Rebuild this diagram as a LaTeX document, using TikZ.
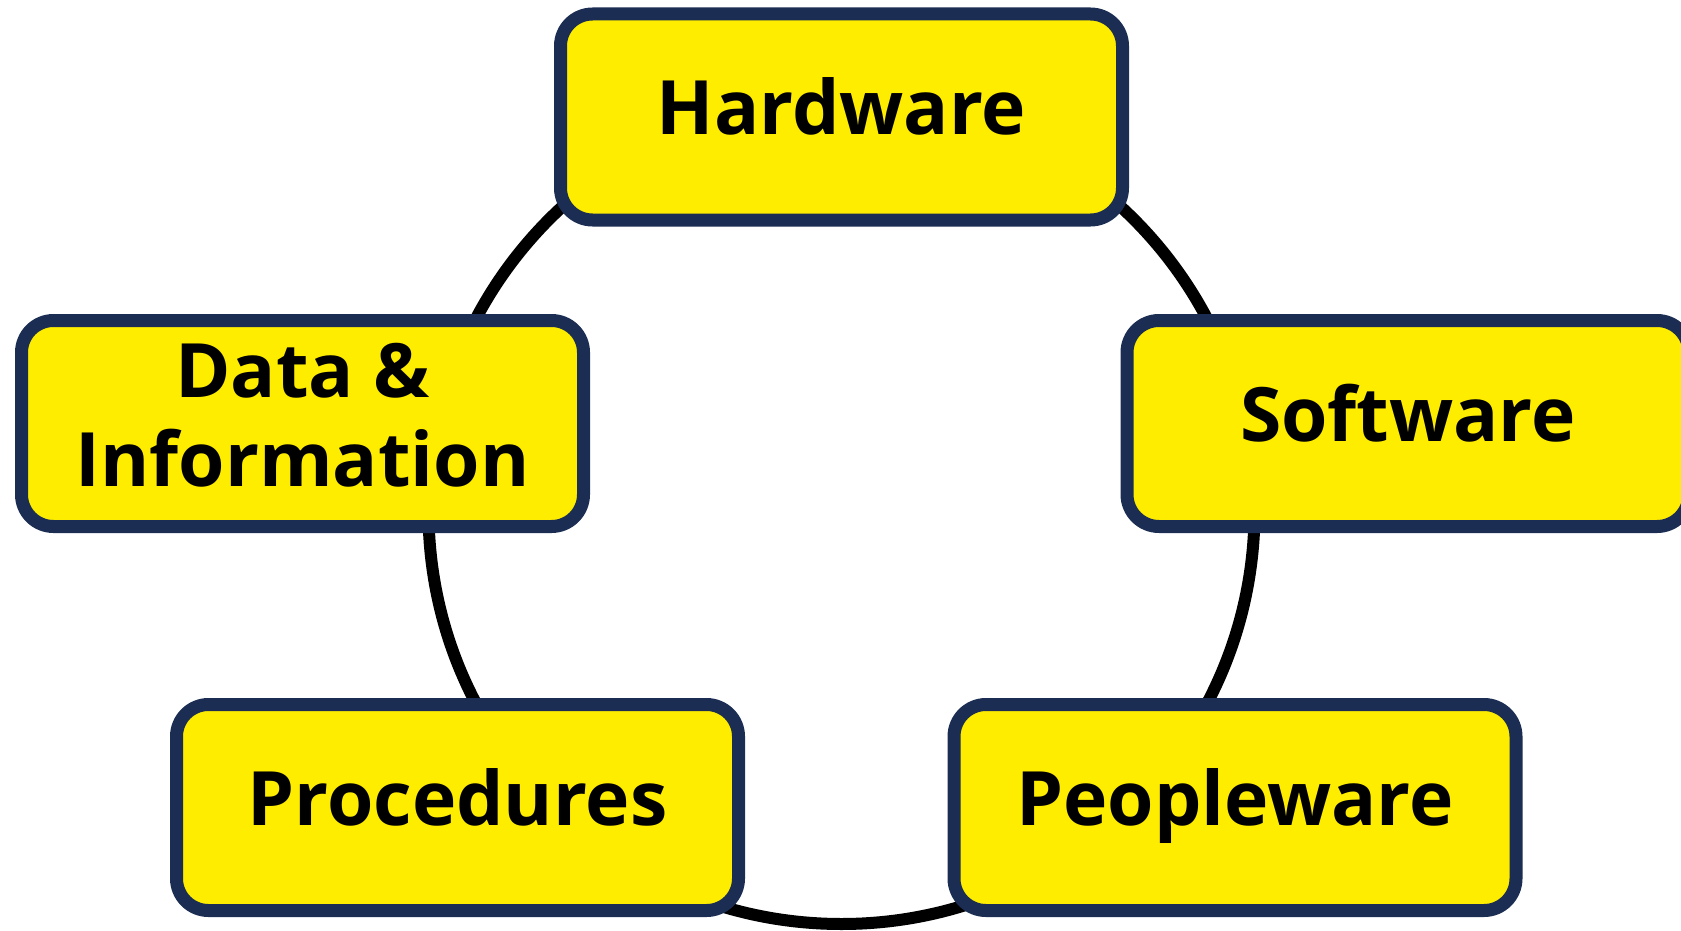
\documentclass[tikz,border=0pt]{standalone}
\usepackage{fontspec}
\setmainfont{Open Sans}
\usetikzlibrary{positioning}
\definecolor{boxyellow}{RGB}{255,237,0}
\definecolor{boxnavy}{RGB}{27,45,82}
\begin{document}
\begin{tikzpicture}[
  x=1pt,y=-1pt,
  font=\fontsize{75}{89}\selectfont\bfseries,
  part/.style={draw=boxnavy,fill=boxyellow,line width=13pt,rounded corners=32pt,
               minimum width=562pt,minimum height=206pt,align=center,inner sep=0pt,
               text height=54pt,text depth=18pt},
  ring/.style={line width=12pt,draw=black},
]
\useasboundingbox (0,0) rectangle (1681,931);

% ---- Ring behind the parts --------------------------------------------------
\coordinate (ctr) at (841.5,511);
\draw[ring] (ctr) circle[radius=413pt];

% ---- Parts of the system ----------------------------------------------------
\node[part] (hw)   at (841.5,117)  {Hardware};
\node[part] (sw)   at (1408,423.5) {Software};
\node[part] (pw)   at (1235,807.5) {Peopleware};
\node[part] (proc) at (457.5,807.5){Procedures};
\node[part,text height=143pt,text depth=18pt] (data) at (302.5,423.5) {Data \&\\Information};

\end{tikzpicture}
\end{document}
